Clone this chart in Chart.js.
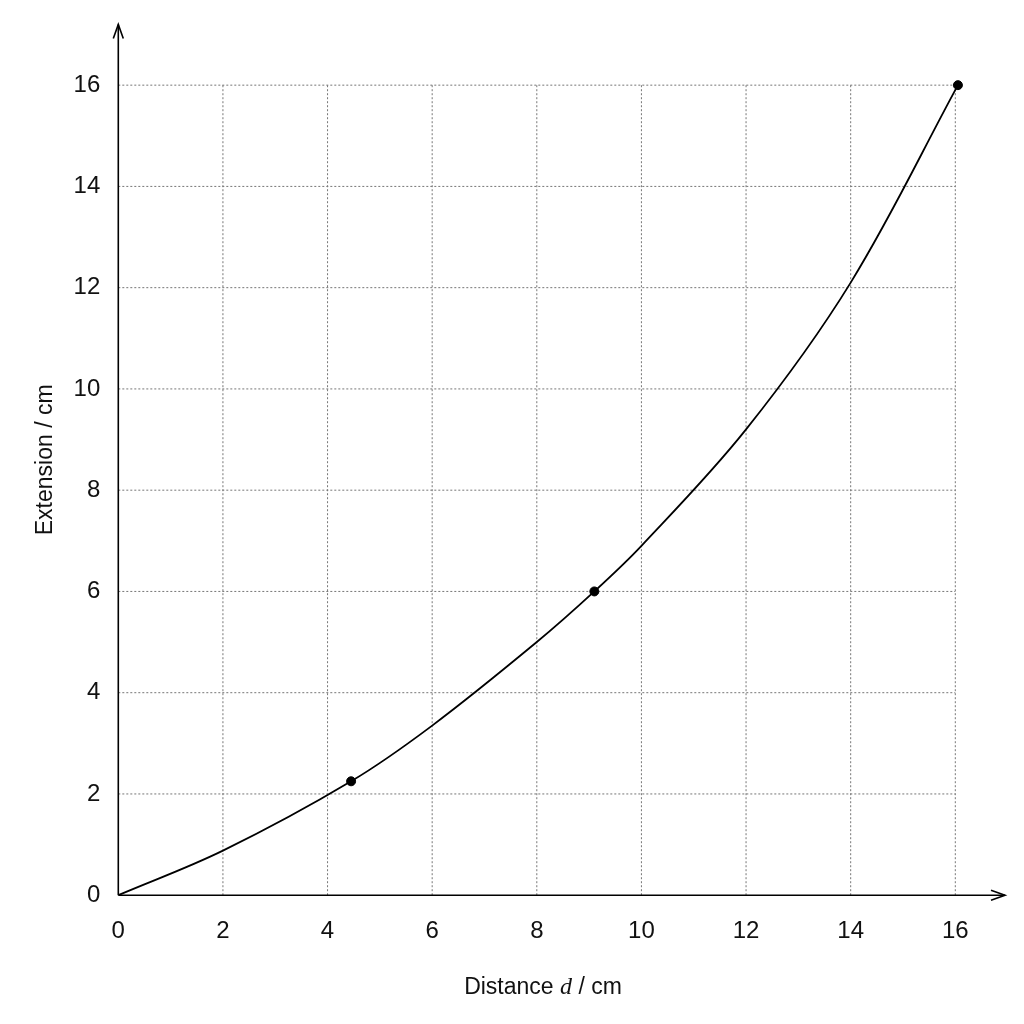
<!DOCTYPE html>
<html><head><meta charset="utf-8">
<script src="https://cdn.jsdelivr.net/npm/chart.js@4"></script>
<style>html,body{margin:0;background:#fff}#w{width:1024px;height:1024px}</style>
</head><body><div id="w"><canvas id="c"></canvas></div>
<script>
const curveX = [0, 2, 4.45, 6, 8, 9.1, 10, 12, 14, 16.05];
const curveY = [0, 0.88, 2.25, 3.35, 5.0, 6.0, 6.9, 9.2, 12.1, 16.0];
const pointX = [4.45, 9.1, 16.05];
const pointY = [2.25, 6.0, 16.0];
const tickVals = [0, 2, 4, 6, 8, 10, 12, 14, 16];
const xTitle = 'Distance d / cm';
const yTitle = 'Extension / cm';

const gridAxes = {
  id: 'gridAxes',
  beforeDatasetsDraw(chart) {
    const {ctx, scales: {x, y}} = chart;
    ctx.save();
    ctx.strokeStyle = '#777'; ctx.lineWidth = 1; ctx.setLineDash([2, 2]);
    const x0 = x.getPixelForValue(0), x16 = x.getPixelForValue(16);
    const y0 = y.getPixelForValue(0), y16 = y.getPixelForValue(16);
    tickVals.forEach(v => {
      if (v === 0) return;
      const px = x.getPixelForValue(v), py = y.getPixelForValue(v);
      ctx.beginPath(); ctx.moveTo(px, y0); ctx.lineTo(px, y16); ctx.stroke();
      ctx.beginPath(); ctx.moveTo(x0, py); ctx.lineTo(x16, py); ctx.stroke();
    });
    ctx.setLineDash([]);
    ctx.strokeStyle = '#000'; ctx.lineWidth = 1.6;
    const xr = x.right, yt = y.top;
    ctx.beginPath(); ctx.moveTo(x0, y0); ctx.lineTo(xr, y0); ctx.stroke();
    ctx.beginPath(); ctx.moveTo(x0, y0); ctx.lineTo(x0, yt); ctx.stroke();
    ctx.beginPath(); ctx.moveTo(xr - 14, y0 - 5); ctx.lineTo(xr, y0); ctx.lineTo(xr - 14, y0 + 5); ctx.stroke();
    ctx.beginPath(); ctx.moveTo(x0 - 5, yt + 14); ctx.lineTo(x0, yt); ctx.lineTo(x0 + 5, yt + 14); ctx.stroke();
    ctx.fillStyle = '#111';
    ctx.textBaseline = 'middle';
    const a = 'Distance ', b = 'd', c = ' / cm';
    ctx.font = '23px "Liberation Sans"'; const wa = ctx.measureText(a).width, wc = ctx.measureText(c).width;
    ctx.font = 'italic 24px "Liberation Serif"'; const wb = ctx.measureText(b).width;
    let sx = 543 - (wa + wb + wc) / 2;
    ctx.font = '23px "Liberation Sans"'; ctx.fillText(a, sx, 988);
    ctx.font = 'italic 24px "Liberation Serif"'; ctx.fillText(b, sx + wa, 988);
    ctx.font = '23px "Liberation Sans"'; ctx.fillText(c, sx + wa + wb, 988);
    ctx.restore();
  }
};

const setTicks = s => { s.ticks = tickVals.map(v => ({value: v})); };

new Chart(document.getElementById('c'), {
  type: 'scatter',
  data: { datasets: [
    { data: curveX.map((v, i) => ({x: v, y: curveY[i]})), showLine: true, borderColor: '#000', borderWidth: 1.8, pointRadius: 0, tension: 0.35 },
    { data: pointX.map((v, i) => ({x: v, y: pointY[i]})), pointRadius: 4.5, pointBackgroundColor: '#000', pointBorderColor: '#000' }
  ]},
  options: {
    responsive: true, maintainAspectRatio: false, animation: false,
    layout: { padding: { top: 20, right: 19, bottom: 64, left: 28 } },
    plugins: { legend: { display: false }, tooltip: { enabled: false } },
    scales: {
      x: { type: 'linear', min: 0, max: 16.95, afterBuildTicks: setTicks,
        ticks: { autoSkip: false, maxRotation: 0, color: '#111', font: { size: 24, family: '"Liberation Sans", Arial' }, padding: 14 },
        grid: { display: false }, border: { display: false } },
      y: { type: 'linear', min: 0, max: 17.2, afterBuildTicks: setTicks,
        ticks: { autoSkip: false, color: '#111', font: { size: 24, family: '"Liberation Sans", Arial' }, padding: 10 },
        title: { display: true, text: yTitle, color: '#111', font: { size: 23, family: '"Liberation Sans", Arial' } },
        grid: { display: false }, border: { display: false } }
    }
  },
  plugins: [gridAxes]
});
</script></body></html>
